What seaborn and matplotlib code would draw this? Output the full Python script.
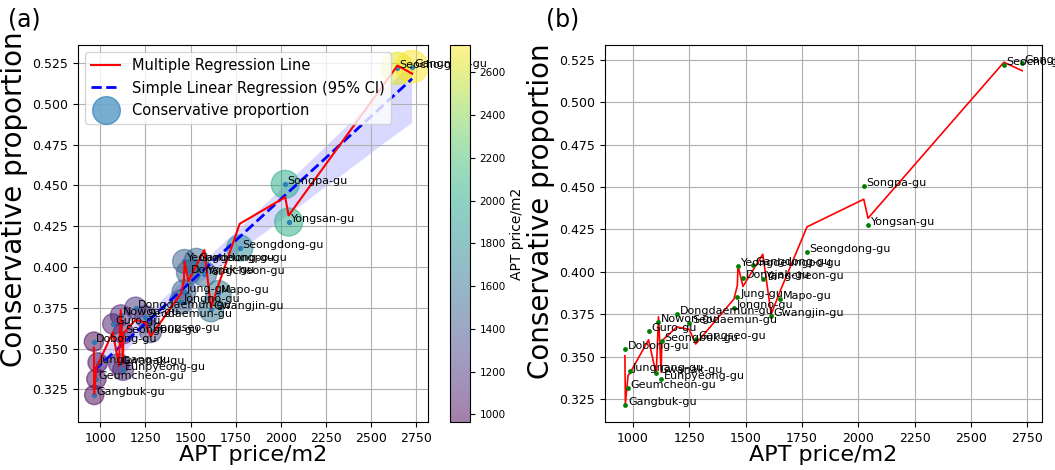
import numpy as np
import pandas as pd
import matplotlib
matplotlib.use('Agg')
import matplotlib.pyplot as plt
import seaborn as sns
from matplotlib.lines import Line2D
from matplotlib.ticker import MultipleLocator

# districts sorted by apartment price
districts = ['Dobong-gu', 'Gangbuk-gu', 'Geumcheon-gu', 'Jungnang-gu', 'Guro-gu',
             'Gwanak-gu', 'Nowon-gu', 'Eunpyeong-gu', 'Seongbuk-gu', 'Dongdaemun-gu',
             'Seodaemun-gu', 'Gangseo-gu', 'Jongno-gu', 'Jung-gu', 'Yeongdeungpo-gu',
             'Dongjak-gu', 'Gangdong-gu', 'Yangcheon-gu', 'Gwangjin-gu', 'Mapo-gu',
             'Seongdong-gu', 'Songpa-gu', 'Yongsan-gu', 'Seocho-gu', 'Gangnam-gu']
apt_price = [964, 966, 978, 985, 1069, 1103, 1113, 1125, 1128, 1195,
             1250, 1278, 1448, 1463, 1466, 1488, 1532, 1576, 1613, 1654,
             1772, 2024, 2043, 2646, 2727]
conservative = [0.3543, 0.3216, 0.3314, 0.3415, 0.3651, 0.3406, 0.3705, 0.3369, 0.3594, 0.3750,
                0.3696, 0.3605, 0.3787, 0.3849, 0.4035, 0.3966, 0.4040, 0.3957, 0.3741, 0.3840,
                0.4117, 0.4507, 0.4276, 0.5217, 0.5228]
# fitted values of the multiple regression model
fitted = [0.3506, 0.3222, 0.3390, 0.3400, 0.3600, 0.3395, 0.3735, 0.3408, 0.3594, 0.3676,
          0.3660, 0.3575, 0.3840, 0.3920, 0.4035, 0.3914, 0.4010, 0.4104, 0.3750, 0.3890,
          0.4265, 0.4428, 0.4316, 0.5235, 0.5185]

df = pd.DataFrame({'district': districts, 'price': apt_price,
                   'cons': conservative, 'fitted': fitted})

fig = plt.figure(figsize=(10.55, 4.7), dpi=100)
ax1 = fig.add_axes([0.0739, 0.102, 0.3318, 0.802])
cax = fig.add_axes([0.4265, 0.102, 0.019, 0.802])
ax2 = fig.add_axes([0.5735, 0.102, 0.4142, 0.802])

# (a) bubbles coloured by price + simple regression + multiple regression line
sc = ax1.scatter(df['price'], df['cons'], c=df['price'], cmap='viridis',
                 s=df['price'] / 5, alpha=0.5, zorder=2)
sns.regplot(data=df, x='price', y='cons', ax=ax1, color='blue', seed=0,
            scatter_kws={'s': 8, 'color': 'C0', 'zorder': 3},
            line_kws={'linestyle': '--', 'linewidth': 2})
sns.lineplot(data=df, x='price', y='fitted', ax=ax1, color='red', linewidth=1.5,
             sort=False, estimator=None, zorder=4)
for n, p, c in zip(districts, apt_price, conservative):
    ax1.text(p + 12, c, n, fontsize=8, zorder=5)

handles = [Line2D([], [], color='red', lw=1.5),
           Line2D([], [], color='blue', ls='--', lw=2),
           Line2D([], [], marker='o', ls='', color='C0', alpha=0.6, markersize=20)]
ax1.legend(handles, ['Multiple Regression Line', 'Simple Linear Regression (95% CI)',
                     'Conservative proportion'], loc='upper left', fontsize=10.5)
ax1.set_ylim(0.305, 0.536)
ax1.yaxis.set_major_locator(MultipleLocator(0.025))
ax1.grid(True)
ax1.set_xlabel('APT price/m2', fontsize=16, labelpad=0)
ax1.set_ylabel('Conservative proportion', fontsize=20)
ax1.yaxis.set_label_coords(-0.143, 0.59)
ax1.tick_params(labelsize=9)

cb = fig.colorbar(sc, cax=cax)
cb.set_label('APT price/m2', fontsize=10, labelpad=3)
cb.ax.tick_params(labelsize=7.5)

# (b) plain points + multiple regression line
sns.lineplot(data=df, x='price', y='fitted', ax=ax2, color='red', linewidth=1.2,
             sort=False, estimator=None)
sns.scatterplot(data=df, x='price', y='cons', ax=ax2, color='green', s=12,
                linewidth=0, zorder=3)
for n, p, c in zip(districts, apt_price, conservative):
    ax2.text(p + 12, c, n, fontsize=8)
ax2.set_xlim(ax1.get_xlim())
ax2.yaxis.set_major_locator(MultipleLocator(0.025))
ax2.grid(True)
ax2.set_xlabel('APT price/m2', fontsize=16, labelpad=0)
ax2.set_ylabel('Conservative proportion', fontsize=20)
ax2.yaxis.set_label_coords(-0.114, 0.56)
ax2.tick_params(labelsize=9)

fig.text(8 / 1055, 1 - 8 / 470, '(a)', fontsize=17, va='top')
fig.text(546 / 1055, 1 - 8 / 470, '(b)', fontsize=17, va='top')

fig.savefig('out.png', dpi=100)
